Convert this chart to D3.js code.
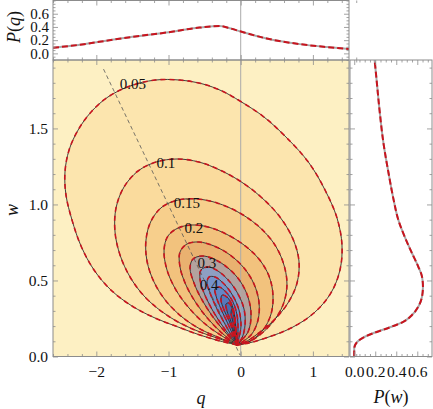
<!DOCTYPE html>
<html><head><meta charset="utf-8">
<script src="https://cdn.jsdelivr.net/npm/d3@7"></script>
<style>
body{margin:0;background:#fff}
svg{display:block}
text{font-family:"Liberation Serif","Times New Roman",serif;fill:#111}
</style>
</head><body>
<svg id="c" width="433" height="409"></svg>
<script>
// ---------- data ----------
const qTicks = [-2, -1, 0, 1];
const wTicks = [0, 0.5, 1.0, 1.5];
const pqTicks = [0, 0.2, 0.4, 0.6];
const pwTicks = [0, 0.2, 0.4, 0.6];

// marginal P(q)
const margQ = [-2.6, -2.2, -1.96, -1.5, -1.03, -0.57, -0.29, -0.15, -0.01, 0.36, 0.82, 1.2, 1.5];
const margPq = [0.085, 0.135, 0.175, 0.25, 0.315, 0.39, 0.414, 0.38, 0.335, 0.225, 0.14, 0.095, 0.065];

// marginal P(w)
const margW = [0, 0.054, 0.097, 0.126, 0.153, 0.192, 0.229, 0.273, 0.328, 0.393, 0.459, 0.525, 0.59, 0.679, 0.778, 0.898, 1.03, 1.205, 1.40, 1.62, 1.84, 1.95];
const margPw = [0, 0.0, 0.03, 0.09, 0.18, 0.34, 0.47, 0.55, 0.61, 0.645, 0.654, 0.645, 0.61, 0.55, 0.486, 0.42, 0.375, 0.327, 0.279, 0.241, 0.21, 0.194];

// contours of P(q,w): common cusp + traced points [q, w]
const cusp = [-0.05, 0.076];
const contourLevels = [0.05, 0.1, 0.15, 0.2, 0.25, 0.3, 0.35, 0.4, 0.45, 0.5, 0.55, 0.6];
const contourColors = ["#fce5ae", "#fadb9d", "#f7cf8c", "#f2c27d", "#e9b170", "#b3a29e", "#8e9fc3", "#7593cb", "#6486c5", "#5679bb", "#4a6cad", "#3f609f"];
const backgroundColor = "#fdf0c3";

const c005 = [[-0.287,0.102],[-0.564,0.141],[-0.868,0.194],[-1.187,0.253],[-1.506,0.332],[-1.797,0.437],[-2.032,0.569],[-2.212,0.727],[-2.337,0.898],[-2.420,1.062],[-2.434,1.213],[-2.378,1.357],[-2.253,1.489],[-2.073,1.608],[-1.838,1.707],[-1.533,1.779],[-1.187,1.818],[-0.841,1.818],[-0.522,1.792],[-0.259,1.746],[-0.010,1.680],[0.323,1.575],[0.655,1.430],[0.946,1.273],[1.168,1.095],[1.334,0.911],[1.403,0.733],[1.375,0.569],[1.250,0.418],[1.015,0.286],[0.697,0.187],[0.350,0.122],[0.115,0.089]];
const c010 = [[-0.287,0.115],[-0.564,0.161],[-0.841,0.220],[-1.104,0.299],[-1.339,0.398],[-1.533,0.523],[-1.672,0.668],[-1.741,0.819],[-1.727,0.977],[-1.616,1.115],[-1.422,1.220],[-1.173,1.279],[-0.882,1.299],[-0.578,1.279],[-0.287,1.226],[-0.010,1.154],[0.281,1.049],[0.544,0.917],[0.724,0.773],[0.807,0.628],[0.780,0.483],[0.655,0.352],[0.447,0.233],[0.212,0.141],[0.060,0.095]];
const c015 = [[-0.287,0.122],[-0.564,0.181],[-0.813,0.260],[-1.035,0.365],[-1.201,0.490],[-1.298,0.628],[-1.312,0.766],[-1.242,0.891],[-1.090,0.983],[-0.868,1.029],[-0.605,1.036],[-0.328,1.010],[-0.037,0.950],[0.226,0.865],[0.447,0.753],[0.586,0.622],[0.641,0.477],[0.586,0.339],[0.434,0.220],[0.226,0.128],[0.073,0.089]];
const c020 = [[-0.259,0.135],[-0.494,0.214],[-0.716,0.319],[-0.896,0.437],[-1.021,0.569],[-1.062,0.700],[-1.007,0.793],[-0.868,0.845],[-0.675,0.865],[-0.453,0.852],[-0.204,0.806],[0.046,0.733],[0.253,0.641],[0.392,0.529],[0.447,0.404],[0.420,0.279],[0.309,0.174],[0.129,0.102]];
const c025 = [[-0.245,0.148],[-0.439,0.240],[-0.619,0.352],[-0.758,0.470],[-0.841,0.589],[-0.841,0.687],[-0.744,0.740],[-0.578,0.753],[-0.370,0.727],[-0.148,0.668],[0.046,0.582],[0.184,0.477],[0.253,0.358],[0.240,0.240],[0.143,0.141]];
const c030 = [[-0.217,0.161],[-0.384,0.260],[-0.536,0.372],[-0.647,0.483],[-0.702,0.582],[-0.661,0.641],[-0.536,0.661],[-0.370,0.641],[-0.176,0.582],[-0.010,0.497],[0.101,0.391],[0.143,0.273],[0.101,0.161]];
const c035 = [[-0.231,0.187],[-0.384,0.299],[-0.508,0.418],[-0.564,0.510],[-0.550,0.569],[-0.453,0.589],[-0.314,0.562],[-0.162,0.497],[-0.037,0.411],[0.046,0.312],[0.060,0.207],[0.018,0.122]];
const c040 = [[-0.204,0.201],[-0.328,0.312],[-0.425,0.418],[-0.467,0.483],[-0.439,0.523],[-0.356,0.523],[-0.231,0.477],[-0.107,0.398],[-0.024,0.306],[0.004,0.201],[-0.024,0.122]];
const c045 = [[-0.176,0.214],[-0.273,0.312],[-0.342,0.398],[-0.356,0.444],[-0.301,0.457],[-0.204,0.424],[-0.107,0.358],[-0.051,0.273],[-0.037,0.181]];
const c050 = [[-0.148,0.220],[-0.231,0.306],[-0.273,0.372],[-0.259,0.404],[-0.190,0.391],[-0.121,0.339],[-0.079,0.253],[-0.065,0.168]];
const c055 = [[-0.134,0.227],[-0.190,0.299],[-0.204,0.345],[-0.162,0.352],[-0.107,0.299],[-0.079,0.207]];
const c060 = [[-0.107,0.227],[-0.134,0.286],[-0.121,0.312],[-0.093,0.280],[-0.072,0.187]];
const contourPoints = [c005, c010, c015, c020, c025, c030, c035, c040, c045, c050, c055, c060];

// contour labels [text, q, w]
const contourLabels = [["0.05",-1.492,1.792],["0.1",-1.035,1.273],["0.15",-0.744,1.010],["0.2",-0.647,0.845],["0.3",-0.467,0.615],["0.4",-0.439,0.470]];
// dashed guide line
const guideLine = [[-1.90, 1.89], [-0.01, 0.01]];

// ---------- layout ----------
const svg = d3.select("#c");
const M = {l:53, r:349, t:60, b:356.5};
const T = {t:0.5, b:60};
const R = {l:350, r:432};

const x = d3.scaleLinear([-2.6, 1.5], [M.l, M.r]);
const y = d3.scaleLinear([0, 1.95], [M.b, M.t]);
const yTop = d3.scaleLinear([-0.1, 0.8], [T.b, T.t]);
const xRight = d3.scaleLinear([-0.04, 0.74], [R.l, R.r]);

const frameColor = "#8c8c8c";
const fmt = d => (d < 0 ? "\u2212" + (-d) : String(d));
const fmt1 = d => (d < 0 ? "\u2212" : "") + Math.abs(d).toFixed(1);

const defs = svg.append("defs");
defs.append("clipPath").attr("id","cm").append("rect").attr("x",M.l).attr("y",M.t).attr("width",M.r-M.l).attr("height",M.b-M.t);
defs.append("clipPath").attr("id","ct").append("rect").attr("x",M.l).attr("y",T.t).attr("width",M.r-M.l).attr("height",T.b-T.t);
defs.append("clipPath").attr("id","cr").append("rect").attr("x",R.l).attr("y",M.t).attr("width",R.r-R.l).attr("height",M.b-M.t);

// ---------- main contour panel ----------
const gm = svg.append("g").attr("clip-path","url(#cm)");
gm.append("rect").attr("x",M.l).attr("y",M.t).attr("width",M.r-M.l).attr("height",M.b-M.t).attr("fill",backgroundColor);

const lineGen = d3.line().x(d=>x(d[0])).y(d=>y(d[1])).curve(d3.curveCatmullRom.alpha(0.5));
const pathOf = pts => lineGen([cusp, ...pts, cusp]) + "Z";

contourPoints.forEach((pts,i)=>{
  gm.append("path").attr("d",pathOf(pts)).attr("fill",contourColors[i]).attr("stroke","none");
});
// q = 0 axis line
gm.append("line").attr("x1",x(0)).attr("x2",x(0)).attr("y1",M.t).attr("y2",M.b).attr("stroke","#aaa").attr("stroke-width",1);

contourPoints.forEach((pts)=>{
  gm.append("path").attr("d",pathOf(pts)).attr("fill","none").attr("stroke","#2a2a2a").attr("stroke-width",0.9);
});
contourPoints.forEach((pts)=>{
  gm.append("path").attr("d",pathOf(pts)).attr("fill","none").attr("stroke","#c8141e").attr("stroke-width",1.6).attr("stroke-dasharray","5,4");
});
gm.append("line").attr("x1",x(guideLine[0][0])).attr("y1",y(guideLine[0][1])).attr("x2",x(guideLine[1][0])).attr("y2",y(guideLine[1][1]))
  .attr("stroke","#555").attr("stroke-width",0.8).attr("stroke-dasharray","4,3");

gm.selectAll("text.cl").data(contourLabels).join("text").attr("class","cl")
  .attr("x",d=>x(d[1])).attr("y",d=>y(d[2])).attr("dy","0.33em").attr("text-anchor","middle")
  .attr("font-size",15).text(d=>d[0]);

// ---------- top marginal ----------
const gt = svg.append("g").attr("clip-path","url(#ct)");
gt.append("line").attr("x1",x(0)).attr("x2",x(0)).attr("y1",T.t).attr("y2",T.b).attr("stroke","#aaa").attr("stroke-width",1);
const topLine = d3.line().x((d,i)=>x(margQ[i])).y((d,i)=>yTop(margPq[i])).curve(d3.curveMonotoneX);
gt.append("path").attr("d",topLine(margQ)).attr("fill","none").attr("stroke","#a8a8a8").attr("stroke-width",2);
gt.append("path").attr("d",topLine(margQ)).attr("fill","none").attr("stroke","#c8141e").attr("stroke-width",2).attr("stroke-dasharray","6,3");

// ---------- right marginal ----------
const gr = svg.append("g").attr("clip-path","url(#cr)");
const rightLine = d3.line().x((d,i)=>xRight(margPw[i])).y((d,i)=>y(margW[i])).curve(d3.curveMonotoneY);
gr.append("path").attr("d",rightLine(margW)).attr("fill","none").attr("stroke","#a8a8a8").attr("stroke-width",2);
gr.append("path").attr("d",rightLine(margW)).attr("fill","none").attr("stroke","#c8141e").attr("stroke-width",2).attr("stroke-dasharray","6,3");

// ---------- axes / frames ----------
function styleAxis(g, fs){
  g.attr("font-family",null);
  g.select(".domain").remove();
  g.selectAll(".tick line").attr("stroke",frameColor).attr("stroke-width",0.8);
  g.selectAll(".tick text").attr("font-size",fs||15.5).attr("fill","#111").attr("font-family",'"Liberation Serif",serif');
}
function minorRange(a,b,step,majors){
  return d3.range(Math.round(a/step), Math.round(b/step)+1).map(k=>+(k*step).toFixed(6)).filter(v=>!majors.some(m=>Math.abs(m-v)<1e-9));
}
function frame(l,r,t,b){
  svg.append("rect").attr("x",l).attr("y",t).attr("width",r-l).attr("height",b-t).attr("fill","none").attr("stroke",frameColor).attr("stroke-width",1);
}
function ticksX(scale, yPos, majors, minors, orient, labels, labelFmt, pad){
  const A = orient==="bottom" ? d3.axisBottom : d3.axisTop;
  const g1 = svg.append("g").attr("transform",`translate(0,${yPos})`).call(A(scale).tickValues(majors).tickSize(-5).tickPadding(pad||9).tickFormat(labels?labelFmt:""));
  styleAxis(g1);
  const g2 = svg.append("g").attr("transform",`translate(0,${yPos})`).call(A(scale).tickValues(minors).tickSize(-2.5).tickFormat(""));
  styleAxis(g2);
}
function ticksY(scale, xPos, majors, minors, orient, labels, labelFmt, pad, fs){
  const A = orient==="left" ? d3.axisLeft : d3.axisRight;
  const g1 = svg.append("g").attr("transform",`translate(${xPos},0)`).call(A(scale).tickValues(majors).tickSize(-5).tickPadding(pad||5).tickFormat(labels?labelFmt:""));
  styleAxis(g1, fs);
  const g2 = svg.append("g").attr("transform",`translate(${xPos},0)`).call(A(scale).tickValues(minors).tickSize(-2.5).tickFormat(""));
  styleAxis(g2);
}

// main
const qMin = minorRange(-2.6,1.5,0.2,qTicks);
const wMin = minorRange(0,1.9,0.1,wTicks);
ticksX(x, M.b, qTicks, qMin, "bottom", true, fmt, 9);
ticksX(x, M.t, qTicks, qMin, "top", false);
ticksY(y, M.l, wTicks, wMin, "left", true, fmt1, 5);
ticksY(y, M.r, wTicks, wMin, "right", false);
frame(M.l, M.r, M.t, M.b);

// top
const pqMin = minorRange(-0.1,0.8,0.05,pqTicks);
ticksX(x, T.b, qTicks, qMin, "bottom", false);
ticksX(x, T.t, qTicks, qMin, "top", false);
ticksY(yTop, M.l, pqTicks, pqMin, "left", true, fmt1, 4, 15);
ticksY(yTop, M.r, pqTicks, pqMin, "right", false);
frame(M.l, M.r, T.t, T.b);

// right
const pwMin = minorRange(0,0.7,0.05,pwTicks);
ticksX(xRight, M.b, pwTicks, pwMin, "bottom", true, fmt1, 9);
ticksX(xRight, M.t, pwTicks, pwMin, "top", false);
ticksY(y, R.l, wTicks, wMin, "left", false);
ticksY(y, R.r, wTicks, wMin, "right", false);
frame(R.l, R.r, M.t, M.b);

// ---------- axis titles ----------
svg.append("text").attr("x",201).attr("y",404).attr("text-anchor","middle").attr("font-size",18).attr("font-style","italic").text("q");
svg.append("text").attr("transform","translate(18,210) rotate(-90)").attr("text-anchor","middle").attr("font-size",18).attr("font-style","italic").text("w");
const tq = svg.append("text").attr("transform","translate(20,27) rotate(-90)").attr("text-anchor","middle").attr("font-size",18);
tq.append("tspan").attr("font-style","italic").text("P");
tq.append("tspan").text("(");
tq.append("tspan").attr("font-style","italic").text("q");
tq.append("tspan").text(")");
const tw = svg.append("text").attr("x",391).attr("y",403).attr("text-anchor","middle").attr("font-size",18);
tw.append("tspan").attr("font-style","italic").text("P");
tw.append("tspan").text("(");
tw.append("tspan").attr("font-style","italic").text("w");
tw.append("tspan").text(")");
</script>
</body></html>
